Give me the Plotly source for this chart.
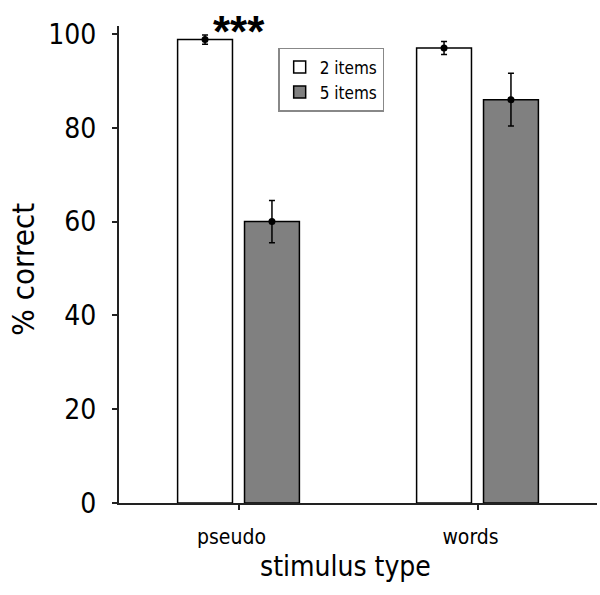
import plotly.graph_objects as go

stimulus = ["pseudo", "words"]
items_2 = [98.8, 97.0]
items_2_err = [1.0, 1.4]
items_5 = [60.0, 86.0]
items_5_err = [4.5, 5.6]
y_ticks = [0, 20, 40, 60, 80, 100]

FONT = "DejaVu Sans Condensed, DejaVu Sans"

fig = go.Figure()
fig.add_trace(go.Bar(name="2 items", x=stimulus, y=items_2, offsetgroup="a",
                     marker=dict(color="white", line=dict(color="black", width=1.5))))
fig.add_trace(go.Bar(name="5 items", x=stimulus, y=items_5, offsetgroup="b",
                     marker=dict(color="#808080", line=dict(color="black", width=1.5))))
# mean dots + error bars on top of the bars
for vals, errs, grp in [(items_2, items_2_err, "a"), (items_5, items_5_err, "b")]:
    fig.add_trace(go.Scatter(x=stimulus, y=vals, mode="markers", offsetgroup=grp,
                             marker=dict(color="black", size=7), showlegend=False,
                             error_y=dict(type="data", array=errs, color="black",
                                          thickness=1.5, width=3)))

fig.add_annotation(x="pseudo", y=1.043, xref="x", yref="paper", text="<b>***</b>",
                   showarrow=False, font=dict(family="Liberation Sans", size=44, color="black"))
fig.add_annotation(x=0.473, y=-0.095, xref="paper", yref="paper", text="stimulus type",
                   showarrow=False, yanchor="top", font=dict(family=FONT, size=28, color="black"))
fig.add_annotation(x=-0.2, y=0.49, xref="paper", yref="paper", text="% correct", textangle=-90,
                   showarrow=False, xanchor="center", font=dict(family=FONT, size=31, color="black"))

fig.update_layout(
    width=600, height=595,
    margin=dict(l=119, r=3, t=26, b=92),
    plot_bgcolor="white", paper_bgcolor="white",
    barmode="group", bargap=0.44, bargroupgap=0.18,
    scattermode="group", scattergap=0.44,
    font=dict(family=FONT, color="black"),
    legend=dict(x=0.333, y=0.954, xanchor="left", yanchor="top",
                bordercolor="#888888", borderwidth=1.5, bgcolor="white",
                font=dict(family=FONT, size=17), tracegroupgap=0, itemwidth=30),
)
fig.update_yaxes(range=[0, 101.7], tickvals=y_ticks, showgrid=False, zeroline=False,
                 automargin=False,
                 showline=True, linecolor="#222222", linewidth=2,
                 ticks="outside", ticklen=5, tickwidth=1.5, tickcolor="#222222",
                 tickfont=dict(family=FONT, size=28), ticklabelstandoff=10)
fig.update_xaxes(range=[-0.5, 1.5], showgrid=False, zeroline=False,
                 automargin=False,
                 showline=True, linecolor="#222222", linewidth=2,
                 ticks="outside", ticklen=5, tickwidth=1.5, tickcolor="#222222",
                 tickfont=dict(family=FONT, size=21), ticklabelshift=-7, ticklabelstandoff=9)

# drop the default page margin so the figure fills the window
fig.write_html("out.html", config={"displayModeBar": False},
               post_script="document.body.style.margin = '0';")
